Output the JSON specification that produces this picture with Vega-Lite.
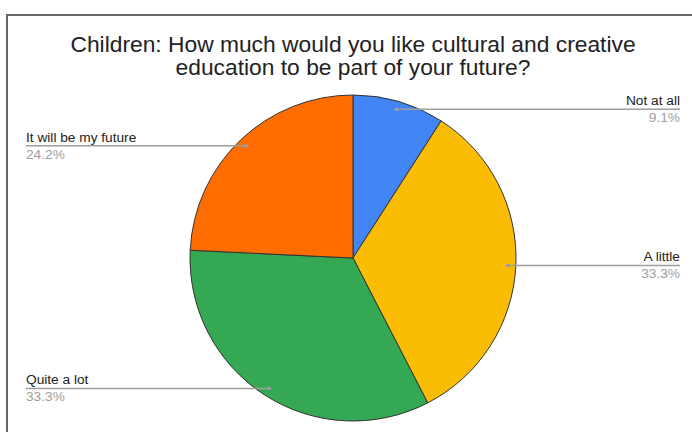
{
  "$schema": "https://vega.github.io/schema/vega-lite/v6.json",
  "autosize": {"type": "none"},
  "padding": {"left": 7, "top": 15, "right": 0, "bottom": 0},
  "width": 692,
  "height": 486,
  "background": "white",
  "title": {
    "text": ["Children: How much would you like cultural and creative", "education to be part of your future?"],
    "orient": "top",
    "anchor": "middle",
    "frame": "group",
    "offset": -83,
    "baseline": "alphabetic",
    "lineHeight": 23,
    "font": "Liberation Sans",
    "fontSize": 22.8,
    "fontWeight": "normal",
    "color": "#222"
  },
  "data": {
    "values": [
      {"category": "Not at all", "value": 3, "order": 1},
      {"category": "A little", "value": 11, "order": 2},
      {"category": "Quite a lot", "value": 11, "order": 3},
      {"category": "It will be my future", "value": 8, "order": 4}
    ]
  },
  "transform": [
    {"joinaggregate": [{"op": "sum", "field": "value", "as": "total"}]},
    {"window": [{"op": "sum", "field": "value", "as": "cum"}], "sort": [{"field": "order"}]},
    {"calculate": "(datum.cum - datum.value / 2) / datum.total * 2 * PI", "as": "mid"},
    {"calculate": "346 + 155 * sin(datum.mid)", "as": "px"},
    {"calculate": "243 - 155 * cos(datum.mid)", "as": "py"},
    {"calculate": "datum.mid < PI ? 'R' : 'L'", "as": "side"},
    {"calculate": "datum.side == 'R' ? 673 : 19", "as": "lx"},
    {"calculate": "format(datum.value / datum.total, '.1%')", "as": "pct"}
  ],
  "layer": [
    {
      "mark": {"type": "arc", "outerRadius": 163, "stroke": "#333", "strokeWidth": 1},
      "encoding": {
        "theta": {"field": "value", "type": "quantitative", "stack": true},
        "order": {"field": "order", "type": "quantitative"},
        "color": {
          "field": "category",
          "type": "nominal",
          "scale": {
            "domain": ["Not at all", "A little", "Quite a lot", "It will be my future"],
            "range": ["#4285F4", "#FBBC04", "#34A853", "#FF6D01"]
          },
          "legend": null
        }
      }
    },
    {
      "mark": {"type": "rule", "color": "#9e9e9e", "strokeWidth": 1.5},
      "encoding": {
        "x": {"field": "px", "type": "quantitative", "scale": null},
        "x2": {"field": "lx"},
        "y": {"field": "py", "type": "quantitative", "scale": null}
      }
    },
    {
      "mark": {"type": "circle", "color": "#9e9e9e", "opacity": 1, "size": 14},
      "encoding": {
        "x": {"field": "px", "type": "quantitative", "scale": null},
        "y": {"field": "py", "type": "quantitative", "scale": null}
      }
    },
    {
      "transform": [{"filter": "datum.side == 'R'"}],
      "mark": {"type": "text", "align": "right", "baseline": "alphabetic", "dy": -4, "font": "Liberation Sans", "fontSize": 13.7, "color": "#222"},
      "encoding": {
        "x": {"field": "lx", "type": "quantitative", "scale": null},
        "y": {"field": "py", "type": "quantitative", "scale": null},
        "text": {"field": "category"}
      }
    },
    {
      "transform": [{"filter": "datum.side == 'R'"}],
      "mark": {"type": "text", "align": "right", "baseline": "alphabetic", "dy": 13, "font": "Liberation Sans", "fontSize": 13.7, "color": "#9e9e9e"},
      "encoding": {
        "x": {"field": "lx", "type": "quantitative", "scale": null},
        "y": {"field": "py", "type": "quantitative", "scale": null},
        "text": {"field": "pct"}
      }
    },
    {
      "transform": [{"filter": "datum.side == 'L'"}],
      "mark": {"type": "text", "align": "left", "baseline": "alphabetic", "dy": -4, "font": "Liberation Sans", "fontSize": 13.7, "color": "#222"},
      "encoding": {
        "x": {"field": "lx", "type": "quantitative", "scale": null},
        "y": {"field": "py", "type": "quantitative", "scale": null},
        "text": {"field": "category"}
      }
    },
    {
      "transform": [{"filter": "datum.side == 'L'"}],
      "mark": {"type": "text", "align": "left", "baseline": "alphabetic", "dy": 13, "font": "Liberation Sans", "fontSize": 13.7, "color": "#9e9e9e"},
      "encoding": {
        "x": {"field": "lx", "type": "quantitative", "scale": null},
        "y": {"field": "py", "type": "quantitative", "scale": null},
        "text": {"field": "pct"}
      }
    }
  ],
  "config": {
    "view": {"stroke": "#666", "strokeWidth": 2}
  }
}
